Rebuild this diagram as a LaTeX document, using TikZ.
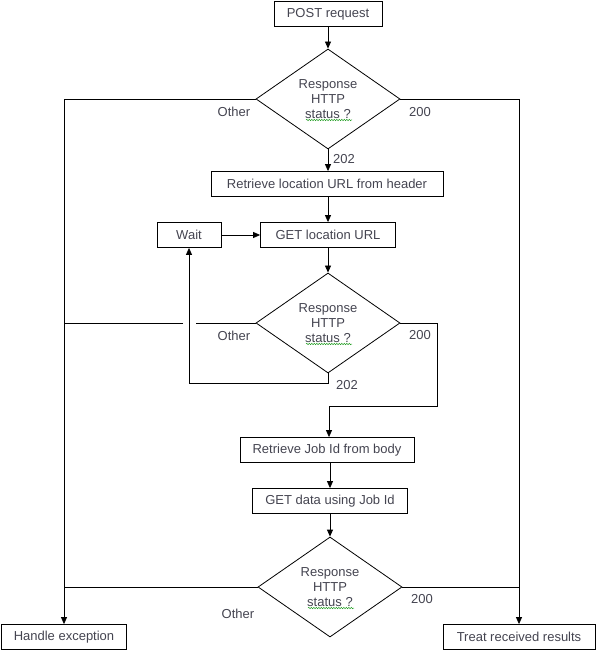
\documentclass[tikz,border=0pt]{standalone}
\usepackage{fontspec}
\setmainfont{Liberation Sans}
\usetikzlibrary{arrows.meta,positioning,shapes.geometric,decorations.pathmorphing}
\definecolor{txtgray}{RGB}{68,68,80}
\definecolor{spellgreen}{RGB}{40,160,40}

\begin{document}
\begin{tikzpicture}[
				x = 1pt, y = -1pt, % pixel-like units
				> = {Triangle[length=7pt,width=6pt]}, % arrow head style
				font = \fontsize{13}{15}\selectfont,
				line width = 0.8pt % line style
			]
			
			\tikzstyle{box}=[
			draw = black,
			text = txtgray,
			minimum height = 25pt,
			inner sep = 0pt
			]
			\tikzstyle{decision}=[
			draw = black,
			diamond,
			aspect = 1.44,
			minimum width = 144pt,
			minimum height = 100pt,
			inner sep = 0pt,
			align = center,
			text = txtgray
			]
			\tikzstyle{lbl}=[text = txtgray, inner sep = 0pt]
			
			\useasboundingbox (0,0) rectangle (597,652);
			
			\node[box, minimum width = 108pt] (post) at (328,14) {POST request};
			\node[decision] (st1) at (328,99) {Response\\HTTP\\status ?};
			\node[box, minimum width = 232pt] (loc) at (327,184) {Retrieve location URL from header};
			\node[box, minimum width = 135pt] (get) at (328,235) {GET location URL};
			\node[box, minimum width = 64pt] (wait) at (189,235) {Wait};
			\node[decision] (st2) at (328,323) {Response\\HTTP\\status ?};
			\node[box, minimum width = 174pt] (job) at (327,450) {Retrieve Job Id from body};
			\node[box, minimum width = 155pt] (data) at (330,501) {GET data using Job Id};
			\node[decision] (st3) at (330,587) {Response\\HTTP\\status ?};
			\node[box, minimum width = 125pt] (exc) at (64,637) {Handle exception};
			\node[box, minimum width = 152pt] (res) at (519,637) {Treat received results};
			
			\coordinate (gap) at (196,323);
			\coordinate (turn) at (437,406);
			
			\draw[->] (post) -- (st1);
			\draw[->] (st1) -- (st1.south |- loc.north);
			\draw[->] (st1.south |- loc.south) -- (st1.south |- get.north);
			\draw[->] (st1.west) -| (exc.north);
			\draw[->] (st1.east) -| (res.north);
			
			\draw[->] (wait) -- (get);
			\draw[->] (get) -- (st2);
			\draw (st2.west) -- (gap);
			\draw ([xshift=-13pt]gap) -- (exc.north |- st2.west);
			\draw[->] (st2.south) -- ++(0,10) -| (wait.south);
			\draw[->] (st2.east) -| (turn) -| ([xshift=2pt]job.north);
			
			\draw[->] (data.north |- job.south) -- (data.north);
			\draw[->] (data) -- (st3);
			\draw (st3.west) -- (exc.north |- st3.west);
			\draw (st3.east) -- (res.north |- st3.east);
			
			\node[lbl] (o1) at (234,112) {Other};
			\node[lbl] (a1) at (420,112) {200};
			\node[lbl] (b1) at (344,159) {202};
			\node[lbl] (o2) at (234,336) {Other};
			\node[lbl] (a2) at (420,335) {200};
			\node[lbl] (b2) at (347,385) {202};
			\node[lbl] (o3) at (238,614) {Other};
			\node[lbl] (a3) at (422,599) {200};
			
			% spell-check squiggles
			\foreach \s in {st1,st2,st3}
			\draw[spellgreen, line width = 0.5pt, decorate,
			decoration = {snake, amplitude = 0.7pt, segment length = 2.5pt}]
			([xshift=-22pt,yshift=-21pt]\s.center) -- ([xshift=24pt,yshift=-21pt]\s.center);
		\end{tikzpicture}
\end{document}
